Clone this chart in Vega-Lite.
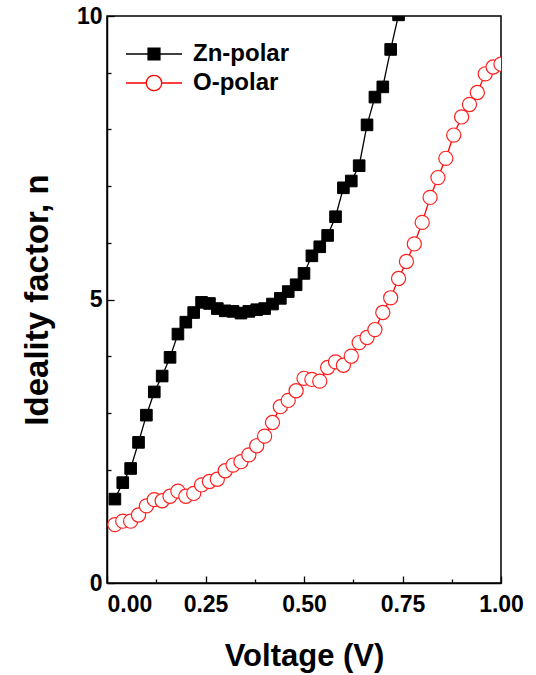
{
  "$schema": "https://vega.github.io/schema/vega-lite/v6.json",
  "width": 394,
  "height": 567,
  "autosize": "none",
  "padding": {"left": 107, "top": 16, "right": 35, "bottom": 92},
  "config": {
    "view": {"stroke": "#000000", "strokeWidth": 1.5},
    "font": "Liberation Sans"
  },
  "data": {
    "values": [
      {"series": "Zn-polar", "V": 0.02, "n": 1.48},
      {"series": "Zn-polar", "V": 0.04, "n": 1.77},
      {"series": "Zn-polar", "V": 0.06, "n": 2.02},
      {"series": "Zn-polar", "V": 0.08, "n": 2.48},
      {"series": "Zn-polar", "V": 0.10, "n": 2.96},
      {"series": "Zn-polar", "V": 0.12, "n": 3.37},
      {"series": "Zn-polar", "V": 0.14, "n": 3.65},
      {"series": "Zn-polar", "V": 0.16, "n": 3.98},
      {"series": "Zn-polar", "V": 0.18, "n": 4.39},
      {"series": "Zn-polar", "V": 0.20, "n": 4.60},
      {"series": "Zn-polar", "V": 0.22, "n": 4.77},
      {"series": "Zn-polar", "V": 0.24, "n": 4.95},
      {"series": "Zn-polar", "V": 0.26, "n": 4.93},
      {"series": "Zn-polar", "V": 0.28, "n": 4.84},
      {"series": "Zn-polar", "V": 0.30, "n": 4.80},
      {"series": "Zn-polar", "V": 0.32, "n": 4.79},
      {"series": "Zn-polar", "V": 0.34, "n": 4.76},
      {"series": "Zn-polar", "V": 0.36, "n": 4.79},
      {"series": "Zn-polar", "V": 0.38, "n": 4.82},
      {"series": "Zn-polar", "V": 0.40, "n": 4.84},
      {"series": "Zn-polar", "V": 0.42, "n": 4.92},
      {"series": "Zn-polar", "V": 0.44, "n": 5.02},
      {"series": "Zn-polar", "V": 0.46, "n": 5.14},
      {"series": "Zn-polar", "V": 0.48, "n": 5.26},
      {"series": "Zn-polar", "V": 0.50, "n": 5.46},
      {"series": "Zn-polar", "V": 0.52, "n": 5.77},
      {"series": "Zn-polar", "V": 0.54, "n": 5.93},
      {"series": "Zn-polar", "V": 0.56, "n": 6.13},
      {"series": "Zn-polar", "V": 0.58, "n": 6.46},
      {"series": "Zn-polar", "V": 0.60, "n": 6.97},
      {"series": "Zn-polar", "V": 0.62, "n": 7.09},
      {"series": "Zn-polar", "V": 0.64, "n": 7.36},
      {"series": "Zn-polar", "V": 0.66, "n": 8.08},
      {"series": "Zn-polar", "V": 0.68, "n": 8.57},
      {"series": "Zn-polar", "V": 0.70, "n": 8.75},
      {"series": "Zn-polar", "V": 0.72, "n": 9.41},
      {"series": "Zn-polar", "V": 0.74, "n": 10.02},
      {"series": "Zn-polar", "V": 0.76, "n": 10.6},
      {"series": "O-polar", "V": 0.02, "n": 1.03},
      {"series": "O-polar", "V": 0.04, "n": 1.09},
      {"series": "O-polar", "V": 0.06, "n": 1.09},
      {"series": "O-polar", "V": 0.08, "n": 1.20},
      {"series": "O-polar", "V": 0.10, "n": 1.36},
      {"series": "O-polar", "V": 0.12, "n": 1.47},
      {"series": "O-polar", "V": 0.14, "n": 1.45},
      {"series": "O-polar", "V": 0.16, "n": 1.53},
      {"series": "O-polar", "V": 0.18, "n": 1.62},
      {"series": "O-polar", "V": 0.20, "n": 1.53},
      {"series": "O-polar", "V": 0.22, "n": 1.58},
      {"series": "O-polar", "V": 0.24, "n": 1.73},
      {"series": "O-polar", "V": 0.26, "n": 1.79},
      {"series": "O-polar", "V": 0.28, "n": 1.83},
      {"series": "O-polar", "V": 0.30, "n": 1.98},
      {"series": "O-polar", "V": 0.32, "n": 2.08},
      {"series": "O-polar", "V": 0.34, "n": 2.14},
      {"series": "O-polar", "V": 0.36, "n": 2.26},
      {"series": "O-polar", "V": 0.38, "n": 2.42},
      {"series": "O-polar", "V": 0.40, "n": 2.59},
      {"series": "O-polar", "V": 0.42, "n": 2.83},
      {"series": "O-polar", "V": 0.44, "n": 3.11},
      {"series": "O-polar", "V": 0.46, "n": 3.22},
      {"series": "O-polar", "V": 0.48, "n": 3.39},
      {"series": "O-polar", "V": 0.50, "n": 3.61},
      {"series": "O-polar", "V": 0.52, "n": 3.59},
      {"series": "O-polar", "V": 0.54, "n": 3.56},
      {"series": "O-polar", "V": 0.56, "n": 3.80},
      {"series": "O-polar", "V": 0.58, "n": 3.90},
      {"series": "O-polar", "V": 0.60, "n": 3.84},
      {"series": "O-polar", "V": 0.62, "n": 4.00},
      {"series": "O-polar", "V": 0.64, "n": 4.24},
      {"series": "O-polar", "V": 0.66, "n": 4.33},
      {"series": "O-polar", "V": 0.68, "n": 4.47},
      {"series": "O-polar", "V": 0.70, "n": 4.77},
      {"series": "O-polar", "V": 0.72, "n": 5.03},
      {"series": "O-polar", "V": 0.74, "n": 5.37},
      {"series": "O-polar", "V": 0.76, "n": 5.67},
      {"series": "O-polar", "V": 0.78, "n": 5.98},
      {"series": "O-polar", "V": 0.80, "n": 6.36},
      {"series": "O-polar", "V": 0.82, "n": 6.80},
      {"series": "O-polar", "V": 0.84, "n": 7.15},
      {"series": "O-polar", "V": 0.86, "n": 7.49},
      {"series": "O-polar", "V": 0.88, "n": 7.90},
      {"series": "O-polar", "V": 0.90, "n": 8.22},
      {"series": "O-polar", "V": 0.92, "n": 8.44},
      {"series": "O-polar", "V": 0.94, "n": 8.65},
      {"series": "O-polar", "V": 0.96, "n": 8.98},
      {"series": "O-polar", "V": 0.98, "n": 9.10},
      {"series": "O-polar", "V": 1.00, "n": 9.15}
    ]
  },
  "encoding": {
    "x": {
      "field": "V",
      "type": "quantitative",
      "scale": {"domain": [0, 1], "nice": false, "zero": false},
      "axis": {
        "title": "Voltage (V)",
        "titleFont": "Liberation Sans",
        "titleFontSize": 31,
        "titleFontWeight": "bold",
        "titleColor": "#000000",
        "titlePadding": 22,
        "values": [0, 0.125, 0.25, 0.375, 0.5, 0.625, 0.75, 0.875, 1],
        "labelExpr": "(datum.value * 4) % 1 === 0 ? format(datum.value, '.2f') : ''",
        "labelFont": "Liberation Sans",
        "labelFontSize": 23,
        "labelFontWeight": "bold",
        "labelColor": "#000000",
        "labelPadding": 17,
        "labelAlign": {"condition": {"test": "datum.value === 0", "value": "left"}, "value": "center"},
        "labelOverlap": false,
        "labelFlush": false,
        "grid": false,
        "domainColor": "#000000",
        "domainWidth": 1.5,
        "tickColor": "#000000",
        "tickWidth": 1.3,
        "tickSize": {"condition": {"test": "(datum.value * 4) % 1 === 0", "value": -7}, "value": -4}
      }
    },
    "y": {
      "field": "n",
      "type": "quantitative",
      "scale": {"domain": [0, 10], "nice": false},
      "axis": {
        "title": "Ideality factor, n",
        "titleFont": "Liberation Sans",
        "titleFontSize": 33,
        "titleFontWeight": "bold",
        "titleColor": "#000000",
        "titlePadding": 22,
        "values": [0, 1, 2, 3, 4, 5, 6, 7, 8, 9, 10],
        "labelExpr": "datum.value % 5 === 0 ? format(datum.value, 'd') : ''",
        "labelFont": "Liberation Sans",
        "labelFontSize": 23,
        "labelFontWeight": "bold",
        "labelColor": "#000000",
        "labelPadding": 12,
        "labelOverlap": false,
        "labelFlush": false,
        "grid": false,
        "domainColor": "#000000",
        "domainWidth": 1.5,
        "tickColor": "#000000",
        "tickWidth": 1.3,
        "tickSize": {"condition": {"test": "datum.value % 5 === 0", "value": -7}, "value": -4}
      }
    }
  },
  "layer": [
    {
      "mark": {"type": "line", "clip": true, "strokeWidth": 1.3},
      "encoding": {
        "color": {
          "field": "series",
          "type": "nominal",
          "scale": {"domain": ["Zn-polar", "O-polar"], "range": ["#000000", "#ff0000"]},
          "legend": {
            "title": null,
            "orient": "none",
            "legendX": 35,
            "legendY": 26,
            "padding": 0,
            "labelFont": "Liberation Sans",
            "labelFontSize": 24,
            "labelFontWeight": "bold",
            "labelColor": "#000000",
            "labelOffset": 27,
            "rowPadding": 5,
            "symbolSize": 196,
            "symbolType": "M-4,0H4",
            "encode": {
              "symbols": {
                "update": {
                  "shape": {"signal": "datum.value === 'Zn-polar' ? 'M-4,0H4M-0.85,-0.85H0.85V0.85H-0.85Z' : 'M-4,0H-1.1M1.1,0H4M1.1,0A1.1,1.1 0 1 1 -1.1,0A1.1,1.1 0 1 1 1.1,0Z'"},
                  "fill": {"signal": "datum.value === 'Zn-polar' ? '#000000' : '#ffffff'"},
                  "fillOpacity": {"value": 1},
                  "strokeWidth": {"value": 1.3},
                  "size": {"value": 196}
                }
              }
            }
          }
        }
      }
    },
    {
      "transform": [{"filter": "datum.series === 'Zn-polar'"}],
      "mark": {"type": "point", "clip": true, "shape": "square", "size": 135, "filled": true, "fill": "#000000", "stroke": "#000000", "strokeWidth": 1, "opacity": 1}
    },
    {
      "transform": [{"filter": "datum.series === 'O-polar'"}],
      "mark": {"type": "point", "clip": true, "shape": "circle", "size": 200, "filled": false, "fill": "#ffffff", "fillOpacity": 1, "stroke": "#ff2020", "strokeWidth": 1.2, "opacity": 1}
    }
  ]
}
